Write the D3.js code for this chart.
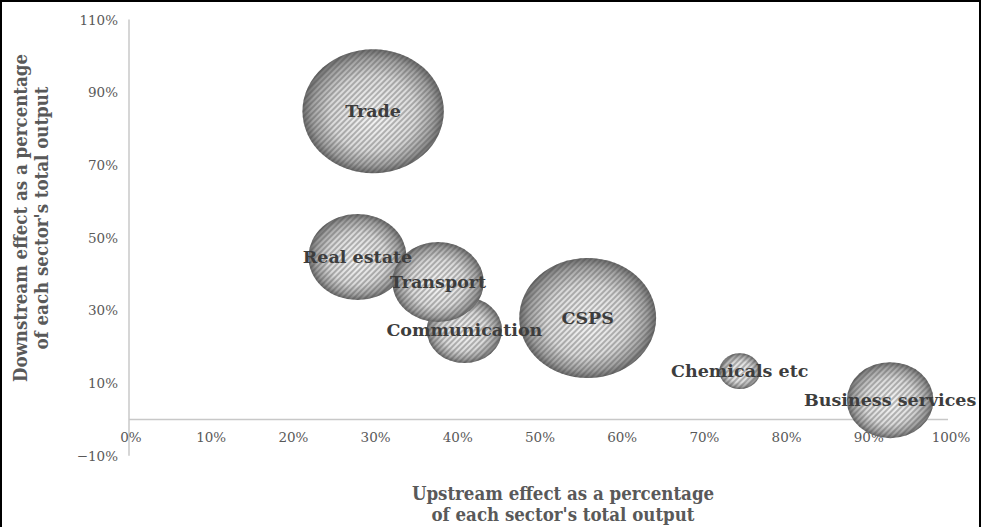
<!DOCTYPE html>
<html>
<head>
<meta charset="utf-8">
<script src="https://cdn.jsdelivr.net/npm/d3@7"></script>
<style>
  body { margin: 0; background: #fff; }
  svg { display: block; }
</style>
</head>
<body>
<div id="chart"></div>
<script>
var svgWidth = 982;
var svgHeight = 527;

// chart data
var sectors = ["Trade", "CSPS", "Real estate", "Communication", "Transport", "Business services", "Chemicals etc"];
var upstream = [0.297, 0.558, 0.278, 0.408, 0.376, 0.926, 0.743];
var downstream = [0.848, 0.279, 0.447, 0.246, 0.378, 0.053, 0.133];
var bubbleSize = [3.84, 3.60, 1.85, 1.09, 1.60, 1.44, 0.32];

var xTicks = [0, 0.1, 0.2, 0.3, 0.4, 0.5, 0.6, 0.7, 0.8, 0.9, 1.0];
var yTicks = [-0.1, 0.1, 0.3, 0.5, 0.7, 0.9, 1.1];

var data = sectors.map(function (s, i) {
    return { name: s, x: upstream[i], y: downstream[i], size: bubbleSize[i] };
});

var svg = d3.select("#chart")
    .append("svg")
    .attr("width", svgWidth)
    .attr("height", svgHeight);

var defs = svg.append("defs");

// sphere-ish grey gradient
var grad = defs.append("radialGradient")
    .attr("id", "sphere")
    .attr("cx", "50%").attr("cy", "50%").attr("r", "50%")
    .attr("fx", "50%").attr("fy", "55%");
grad.append("stop").attr("offset", "0%").attr("stop-color", "#f6f6f6");
grad.append("stop").attr("offset", "60%").attr("stop-color", "#dadada");
grad.append("stop").attr("offset", "87%").attr("stop-color", "#a0a0a0");
grad.append("stop").attr("offset", "100%").attr("stop-color", "#6a6a6a");

// diagonal hatch
var hatch = defs.append("pattern")
    .attr("id", "hatch")
    .attr("patternUnits", "userSpaceOnUse")
    .attr("width", 4).attr("height", 4)
    .attr("patternTransform", "rotate(45)");
hatch.append("line")
    .attr("x1", 1).attr("y1", 0).attr("x2", 1).attr("y2", 4)
    .attr("stroke", "#404040")
    .attr("stroke-width", 0.9)
    .attr("stroke-opacity", 0.75);

// scales
var x = d3.scaleLinear().domain([0, 1]).range([129, 951]);
var y = d3.scaleLinear().domain([-0.1, 1.1]).range([455.8, 19.6]);
var r = d3.scaleSqrt().domain([0, 3.84]).range([0, 62]);
var stretch = 1.14;

// axis lines
svg.append("line")
    .attr("x1", x(0)).attr("x2", x(0))
    .attr("y1", y(1.1)).attr("y2", y(-0.1))
    .attr("stroke", "#c8c8c8").attr("stroke-width", 1.5);
svg.append("line")
    .attr("x1", x(0)).attr("x2", x(1) - 3)
    .attr("y1", y(0)).attr("y2", y(0))
    .attr("stroke", "#c8c8c8").attr("stroke-width", 1.5);

var fmt = d3.format(".0%");

// x tick labels
svg.append("g").selectAll("text")
    .data(xTicks)
    .enter()
    .append("text")
    .attr("x", d => x(d) + (d === 0 ? 2 : 0))
    .attr("y", y(0) + 23)
    .attr("text-anchor", "middle")
    .attr("font-family", "'DejaVu Serif', serif")
    .attr("font-size", "13.5px")
    .attr("fill", "#595959")
    .text(d => fmt(d));

// y tick labels
svg.append("g").selectAll("text")
    .data(yTicks)
    .enter()
    .append("text")
    .attr("x", 118)
    .attr("y", d => y(d) + 5)
    .attr("text-anchor", "end")
    .attr("font-family", "'DejaVu Serif', serif")
    .attr("font-size", "13.5px")
    .attr("fill", "#595959")
    .text(d => fmt(d));

// bubbles
var bubbles = svg.append("g").selectAll("g")
    .data(data)
    .enter()
    .append("g");

bubbles.append("ellipse")
    .attr("cx", d => x(d.x))
    .attr("cy", d => y(d.y))
    .attr("rx", d => r(d.size) * stretch)
    .attr("ry", d => r(d.size))
    .attr("fill", "url(#sphere)");

bubbles.append("ellipse")
    .attr("cx", d => x(d.x))
    .attr("cy", d => y(d.y))
    .attr("rx", d => r(d.size) * stretch)
    .attr("ry", d => r(d.size))
    .attr("fill", "url(#hatch)");

// bubble labels
svg.append("g").selectAll("text")
    .data(data)
    .enter()
    .append("text")
    .attr("x", d => x(d.x))
    .attr("y", d => y(d.y) + 6)
    .attr("text-anchor", "middle")
    .attr("font-family", "'DejaVu Serif', serif")
    .attr("font-weight", "bold")
    .attr("font-size", "17.5px")
    .attr("fill", "#3d3d3d")
    .text(d => d.name);

// axis titles
var titleFont = "'DejaVu Serif Condensed', 'DejaVu Serif', serif";

var xTitle = svg.append("text")
    .attr("text-anchor", "middle")
    .attr("font-family", titleFont)
    .attr("font-stretch", "condensed")
    .attr("font-weight", "bold")
    .attr("font-size", "18.5px")
    .attr("fill", "#595959");
xTitle.append("tspan").attr("x", 563).attr("y", 500).text("Upstream effect as a percentage");
xTitle.append("tspan").attr("x", 563).attr("y", 521).text("of each sector's total output");

var yTitle = svg.append("text")
    .attr("transform", "translate(0, 218) rotate(-90)")
    .attr("text-anchor", "middle")
    .attr("font-family", titleFont)
    .attr("font-stretch", "condensed")
    .attr("font-weight", "bold")
    .attr("font-size", "18.5px")
    .attr("fill", "#595959");
yTitle.append("tspan").attr("x", 0).attr("y", 27).text("Downstream effect as a percentage");
yTitle.append("tspan").attr("x", 0).attr("y", 48).text("of each sector's total output");

// outer frame
svg.append("rect")
    .attr("x", 1).attr("y", 1)
    .attr("width", svgWidth - 3).attr("height", svgHeight + 10)
    .attr("fill", "none")
    .attr("stroke", "#000")
    .attr("stroke-width", 2);
</script>
</body>
</html>
